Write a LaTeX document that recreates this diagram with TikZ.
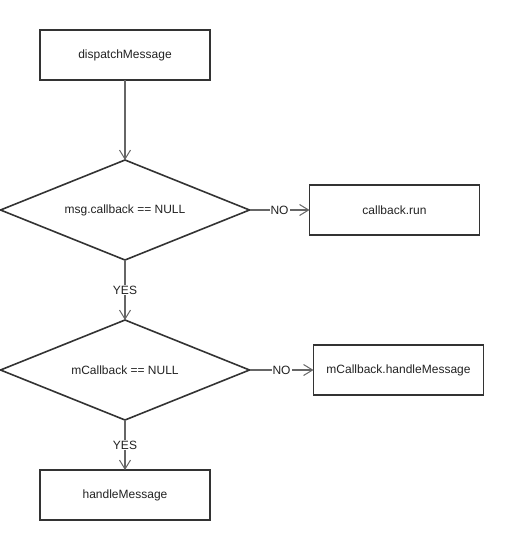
\documentclass[tikz,border=0pt]{standalone}
\usepackage{fontspec}
\setmainfont{Liberation Sans}
\usetikzlibrary{shapes, arrows.meta, positioning}
\definecolor{gristrazo}{HTML}{333333}
\definecolor{grisflecha}{HTML}{666666}
\definecolor{gristexto}{HTML}{222222}
\tikzstyle{proceso} = [draw=gristrazo, line width=1.6pt, outer sep=0pt, rectangle, minimum width=170pt, minimum height=50pt, text=gristexto, font=\fontsize{12}{14}\selectfont]
\tikzstyle{decision} = [draw=gristrazo, line width=1.6pt, outer sep=0pt, diamond, aspect=2.49, minimum width=249pt, minimum height=100pt, inner sep=0pt, text=gristexto, font=\fontsize{12}{14}\selectfont]
\tikzstyle{flecha} = [draw=grisflecha, line width=1.2pt, -{Straight Barb[length=9pt,width=11pt,line width=1pt]}]
\tikzstyle{etiqueta} = [fill=white, inner sep=1pt, text=gristexto, font=\fontsize{12}{14}\selectfont]

\begin{document}
\begin{tikzpicture}[x=1pt, y=1pt]
	\useasboundingbox (0,0) rectangle (504,-540);
	\node [proceso] (dispatch) at (125,-55) {dispatchMessage};
	\node [decision, below=80pt of dispatch] (msgcb) {msg.callback == NULL};
	\node [proceso, right=60pt of msgcb] (run) {callback.run};
	\node [decision, below=60pt of msgcb] (mcb) {mCallback == NULL};
	\node [proceso, right=64pt of mcb] (mhandle) {mCallback.handleMessage};
	\node [proceso, below=50pt of mcb] (handle) {handleMessage};
	\draw [flecha] (dispatch) -- (msgcb);
	\draw [flecha] (msgcb.east) -- node[etiqueta] {NO} (run);
	\draw [flecha] (msgcb.south) -- node[etiqueta] {YES} (mcb.north);
	\draw [flecha] (mcb.east) -- node[etiqueta] {NO} (mhandle);
	\draw [flecha] (mcb.south) -- node[etiqueta] {YES} (handle);
\end{tikzpicture}
\end{document}
